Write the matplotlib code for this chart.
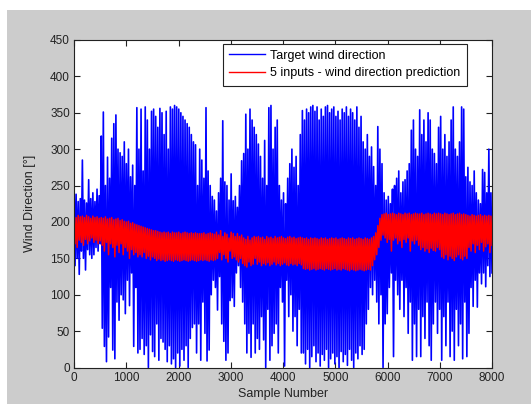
import numpy as np
import matplotlib
matplotlib.use("Agg")
import matplotlib.pyplot as plt
from matplotlib.patches import Rectangle

# ---- data: per 40-sample bin, upper / lower value of each series ----
blue_hi = [262,238,228,232,285,230,226,258,232,240,228,245,236,318,351,250,289,260,315,335,347,300,295,290,310,280,300,262,278,250,
           357,300,355,270,358,340,300,352,355,345,330,356,350,320,352,300,358,355,360,358,355,350,345,340,335,330,320,310,
           306,250,300,285,260,357,270,250,235,230,215,240,260,339,255,250,230,266,229,235,220,250,
           284,294,348,300,355,340,330,320,307,290,260,312,250,357,360,300,330,340,250,230,240,225,260,280,300,275,290,250,320,
           353,340,355,350,358,360,352,358,340,355,345,358,360,350,355,358,345,352,340,355,350,358,345,355,350,340,358,330,345,310,300,
           320,290,303,276,250,331,300,280,240,230,235,225,245,250,260,270,240,255,258,270,280,326,340,300,290,354,320,340,310,350,
           340,300,294,280,330,345,300,320,290,310,340,358,300,290,310,358,355,262,275,255,250,270,240,230,225,272,268,240,300,240]
blue_lo = [140,150,128,160,150,134,162,155,150,155,165,160,170,54,29,8,42,110,24,12,90,65,100,93,74,120,85,130,29,110,
           20,25,40,18,30,0,45,22,15,60,10,40,35,25,8,30,5,12,0,20,2,25,10,30,0,40,55,60,
           20,60,10,90,47,9,24,100,120,110,79,125,60,36,10,20,92,96,84,130,140,110,
           90,60,20,47,14,60,20,40,25,70,38,0,80,10,30,47,60,20,110,90,2,120,70,100,50,70,30,80,20,
           20,5,25,0,15,30,8,20,2,18,10,25,0,12,20,5,15,0,22,8,18,3,25,10,0,20,12,30,18,25,60,
           80,110,100,120,90,60,100,0,60,74,110,130,15,120,100,80,120,70,110,47,90,10,60,15,80,15,70,40,90,30,
           10,60,90,47,80,10,70,30,90,15,50,10,80,30,60,12,90,15,47,110,84,120,83,130,115,130,111,140,125,130]

red_hi = [208,206,209,207,208,206,209,207,205,208,206,207,205,
          206,205,207,204,205,206,203,204,205,202,203,201,200,201,198,199,197,196,
          195,194,193,192,191,190,189,188,188,187,
          186,185,186,185,186,184,186,185,185,186,184,185,186,185,184,185,184,185,184,184,
          184,185,183,184,185,184,183,
          186,182,188,180,185,183,178,186,184,180,
          184,180,182,178,176,180,175,178,180,
          179,180,178,179,176,180,178,179,177,180,178,179,180,178,177,179,180,178,179,177,178,179,
          178,177,178,176,178,177,178,177,176,178,177,178,176,177,178,177,178,176,177,178,177,176,178,177,178,176,177,178,177,176,178,177,176,178,180,
          185,195,205,210,
          211,212,210,211,212,211,210,212,211,210,212,211,212,210,211,212,211,
          211,212,210,211,212,211,210,212,211,212,
          211,210,212,211,210,211,212,210,211,212,210,211,210,
          209,208,210,209,208,209,210,208,209,208,209,208]
red_lo = [170,165,175,172,168,176,170,174,178,172,175,170,174,
          168,160,172,155,170,165,152,168,158,170,155,165,160,150,162,155,158,152,
          155,152,158,150,153,148,152,150,147,149,
          147,148,146,147,148,147,146,148,147,146,147,148,147,146,147,148,147,146,147,148,
          147,148,147,146,148,147,148,
          150,158,148,155,150,145,160,150,152,148,
          145,150,143,140,138,145,140,142,150,
          142,145,140,143,141,144,140,142,145,141,143,140,142,144,141,140,143,141,142,140,143,141,
          136,135,136,134,135,136,134,135,136,135,134,136,135,134,135,136,134,135,134,136,135,134,133,135,134,133,134,135,134,133,134,135,134,140,148,
          155,165,175,182,
          178,172,176,160,175,178,170,174,165,176,172,178,160,174,170,175,168,
          162,165,160,163,158,164,161,160,165,162,
          152,150,155,148,153,150,147,152,155,150,148,153,150,
          165,160,170,158,168,162,172,160,166,170,158,168]

x_ticks = [0, 1000, 2000, 3000, 4000, 5000, 6000, 7000, 8000]
y_ticks = [0, 50, 100, 150, 200, 250, 300, 350, 400, 450]
x_max = 8000
labels = ["Target wind direction", "5 inputs - wind direction prediction"]

plt.rcParams["font.family"] = ["Liberation Sans", "DejaVu Sans"]
plt.rcParams["path.simplify"] = False


def zigzag(hi, lo):
    n = len(hi)
    y = np.empty(2 * n)
    y[0::2] = hi
    y[1::2] = lo
    x = np.linspace(0, x_max, 2 * n)
    return x, y


fig = plt.figure(figsize=(5.31, 4.04), dpi=100, facecolor="white")
bg = Rectangle((7 / 531, 0), 1, 1 - 9.5 / 404, transform=fig.transFigure,
               facecolor="#cccccc", edgecolor="none", zorder=-10)
fig.patches.append(bg)
ax = fig.add_axes([74 / 531, 36.5 / 404, 418 / 531, 327.5 / 404])
ax.set_facecolor("white")

bx, by = zigzag(blue_hi, blue_lo)
rx, ry = zigzag(red_hi, red_lo)
ax.plot(bx, by, color="#0000ff", lw=1.2, label=labels[0])
ax.plot(rx, ry, color="#ff0000", lw=1.1, label=labels[1])

ax.set_xlim(0, x_max)
ax.set_ylim(0, 450)
ax.set_xticks(x_ticks)
ax.set_yticks(y_ticks)
ax.tick_params(direction="in", top=True, right=True, length=4, width=0.8,
               labelsize=8.5, pad=3, colors="#222222")
for s in ax.spines.values():
    s.set_linewidth(0.8)
    s.set_color("#222222")

ax.set_xlabel("Sample Number", fontsize=9, color="#222222")
ax.set_ylabel("Wind Direction [°]", fontsize=9, color="#222222")
ax.xaxis.set_label_coords(0.5, -0.062)
ax.yaxis.set_label_coords(-0.092, 0.5)

leg = ax.legend(loc="upper right", bbox_to_anchor=(0.940, 0.989), frameon=True, fancybox=False,
                edgecolor="#222222", framealpha=1, fontsize=9, handlelength=2.9,
                handletextpad=0.4, borderpad=0.5, labelspacing=0.45, borderaxespad=0)
leg.get_frame().set_linewidth(0.8)
for l in leg.get_lines():
    l.set_linewidth(1.0)

fig.savefig("out.png", dpi=100, facecolor=fig.get_facecolor())
